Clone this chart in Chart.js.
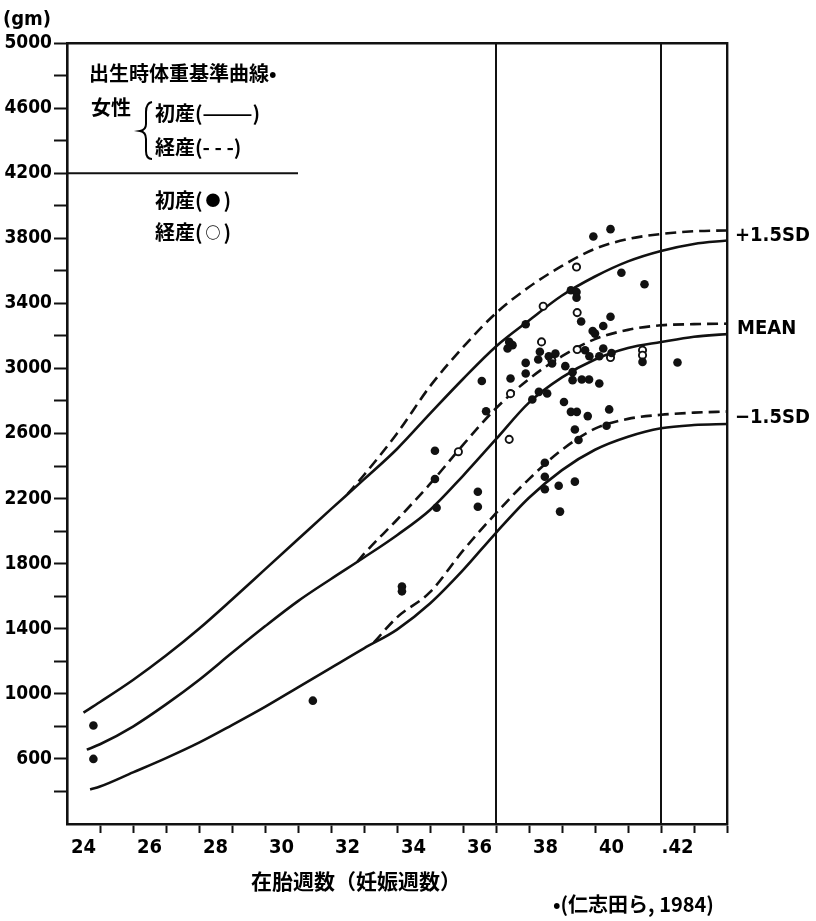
<!DOCTYPE html>
<html lang="ja">
<head>
<meta charset="UTF-8">
<title>出生時体重基準曲線 女性</title>
<script src="https://cdn.jsdelivr.net/npm/chart.js@4.4.1/dist/chart.umd.min.js"></script>
<style>
  html, body { margin: 0; padding: 0; background: #fff; }
  #wrap { width: 816px; height: 921px; }
</style>
</head>
<body>
<div id="wrap"><canvas id="bw" width="816" height="921"></canvas></div>
<script>
// axis ranges
const weekMin = 24, weekMax = 44;
const gramMin = 200, gramMax = 5000;
const weekLabels = [24, 26, 28, 30, 32, 34, 36, 38, 40, 42];
const weekLabelText = ['24', '26', '28', '30', '32', '34', '36', '38', '40', '.42'];
const refWeeks = [37, 42];
const legendBoxWeight = 4200;
const legendBoxEnd = 31;

// 初産 (solid) reference curves
const primUpperWeeks = [24.5, 25, 26, 27, 28, 29, 30, 31, 32, 33, 34, 35, 36, 37, 38, 39, 40, 41, 42, 43, 44];
const primUpper = [885, 950, 1085, 1235, 1400, 1580, 1765, 1950, 2135, 2318, 2505, 2722, 2935, 3135, 3295, 3448, 3565, 3658, 3722, 3765, 3786];
const primMeanWeeks = [24.6, 25, 26, 27, 28, 29, 30, 31, 32, 33, 34, 35, 36, 37, 38, 39, 40, 41, 42, 43, 44];
const primMean = [657, 690, 799, 935, 1085, 1252, 1415, 1570, 1706, 1838, 1975, 2130, 2340, 2565, 2790, 2945, 3055, 3125, 3162, 3195, 3211];
const primLowerWeeks = [24.7, 25, 26, 27, 28, 29, 30, 31, 32, 33, 34, 35, 36, 37, 38, 39, 40, 41, 42, 43, 44];
const primLower = [412, 430, 517, 605, 700, 808, 920, 1040, 1160, 1280, 1395, 1555, 1760, 1990, 2205, 2375, 2500, 2580, 2632, 2652, 2658];

// 経産 (dashed) reference curves, where they leave the solid ones
const multUpperWeeks = [32.5, 33, 34, 35, 36, 37, 38, 39, 40, 41, 42, 43, 44];
const multUpper = [2228, 2345, 2600, 2890, 3130, 3340, 3500, 3630, 3735, 3795, 3826, 3843, 3848];
const multMeanWeeks = [32.8, 33, 34, 35, 36, 37, 38, 39, 40, 41, 42, 43, 44];
const multMean = [1812, 1860, 2070, 2290, 2530, 2755, 2935, 3075, 3180, 3237, 3265, 3272, 3275];
const multLowerWeeks = [33.3, 34, 35, 36, 37, 38, 39, 40, 41, 42, 43, 44];
const multLower = [1316, 1470, 1625, 1880, 2110, 2320, 2500, 2630, 2690, 2715, 2728, 2735];

// cases: 初産 (filled)
const primiWeeks = [24.8, 24.8, 31.45, 34.15, 34.15, 35.15, 35.15, 35.2, 36.45, 36.45, 36.7, 36.57,
  39.95, 40.47, 40.8, 41.5, 39.27, 39.44, 39.44, 39.58, 40.47, 40.25, 37.9, 39.93, 40.0,
  37.4, 37.5, 37.35, 38.33, 37.9, 38.28, 38.6, 38.8, 38.7, 39.7, 39.83, 40.13, 40.25, 40.5, 41.44, 42.5,
  37.44, 37.9, 39.1, 39.32, 39.32, 39.6, 39.82, 40.13,
  38.1, 38.3, 38.55, 39.06, 39.27, 39.45, 39.78, 40.43, 39.39, 39.5, 40.35,
  38.48, 38.48, 38.48, 38.9, 39.39, 38.94];
const primiWeights = [805, 600, 958, 1660, 1630, 2494, 2320, 2144, 2242, 2150, 2737, 2923,
  3811, 3856, 3588, 3517, 3480, 3469, 3435, 3288, 3318, 3261, 3271, 3230, 3214,
  3163, 3143, 3122, 3102, 3034, 3055, 3075, 3091, 3030, 3112, 3075, 3075, 3122, 3095, 3040, 3036,
  2938, 2969, 3014, 2977, 2928, 2932, 2932, 2907,
  2809, 2856, 2846, 2794, 2733, 2733, 2707, 2748, 2625, 2560, 2648,
  2420, 2334, 2257, 2279, 2304, 2120];

// cases: 経産 (open)
const multiWeeks = [35.86, 37.4, 37.44, 38.43, 39.44, 39.46, 38.38, 38.69, 39.46, 40.47, 41.44, 41.44];
const multiWeights = [2488, 2564, 2845, 3382, 3623, 3343, 3163, 3050, 3116, 3067, 3112, 3081];

const pts = (xs, ys) => xs.map((w, i) => ({ x: w, y: ys[i] }));
const INK = '#111';
const numFont = '"DejaVu Sans Condensed", "Liberation Sans Narrow", "DejaVu Sans", sans-serif';
const jpFont = '"Noto Sans CJK JP", "Noto Sans CJK SC", sans-serif';

function curve(xs, ys, dashed) {
  return {
    type: 'line', data: pts(xs, ys),
    borderColor: INK, borderWidth: 2.6, borderDash: dashed ? [11, 6] : [],
    pointRadius: 0, fill: false, cubicInterpolationMode: 'monotone'
  };
}
function rule(a, b) {
  return { type: 'line', data: [a, b], borderColor: INK, borderWidth: 2, pointRadius: 0, fill: false, tension: 0 };
}

const datasets = [
  { type: 'scatter', label: '初産', data: pts(primiWeeks, primiWeights),
    pointRadius: 4.3, pointBackgroundColor: INK, pointBorderWidth: 0 },
  { type: 'scatter', label: '経産', data: pts(multiWeeks, multiWeights),
    pointRadius: 3.6, pointBackgroundColor: '#fff', pointBorderColor: INK, pointBorderWidth: 1.9 },
  curve(primUpperWeeks, primUpper, false),
  curve(primMeanWeeks, primMean, false),
  curve(primLowerWeeks, primLower, false),
  curve(multUpperWeeks, multUpper, true),
  curve(multMeanWeeks, multMean, true),
  curve(multLowerWeeks, multLower, true),
  ...refWeeks.map(w => rule({ x: w, y: gramMin }, { x: w, y: gramMax })),
  rule({ x: weekMin, y: legendBoxWeight }, { x: legendBoxEnd, y: legendBoxWeight })
];

const textPlugin = {
  id: 'texts',
  afterDraw(chart) {
    const { ctx, chartArea, scales: { y } } = chart;
    ctx.save();
    ctx.fillStyle = '#000';
    ctx.strokeStyle = '#000';
    ctx.textBaseline = 'middle';
    ctx.textAlign = 'left';

    ctx.font = 'bold 20px ' + numFont;
    ctx.fillText('(gm)', 3, 20);

    ctx.font = 'bold 20px ' + jpFont;
    ctx.fillText('出生時体重基準曲線•', 89, 73);
    ctx.fillText('女性', 91, 107);
    ctx.fillText('初産(———)', 155, 113);
    ctx.fillText('経産(- - -)', 155, 147);

    // point legend, marker glyph a little smaller than the text
    const item = (lab, mark, yy) => {
      ctx.font = 'bold 20px ' + jpFont;
      ctx.fillText(lab + '(', 155, yy);
      let x = 155 + ctx.measureText(lab + '(').width + 3;
      ctx.font = 'bold 15px ' + jpFont;
      ctx.fillText(mark, x, yy);
      x += ctx.measureText(mark).width + 3;
      ctx.font = 'bold 20px ' + jpFont;
      ctx.fillText(')', x, yy);
    };
    item('初産', '●', 200);
    item('経産', '○', 232);

    // brace
    ctx.lineWidth = 2;
    ctx.beginPath();
    ctx.moveTo(152, 102);
    ctx.quadraticCurveTo(146, 103, 146, 112);
    ctx.lineTo(146, 124);
    ctx.quadraticCurveTo(146, 130, 140, 131);
    ctx.quadraticCurveTo(146, 132, 146, 139);
    ctx.lineTo(146, 151);
    ctx.quadraticCurveTo(146, 159, 152, 159);
    ctx.stroke();

    // SD labels at the curve ends
    ctx.font = 'bold 20px ' + numFont;
    const lx = chartArea.right + 8;
    const last = a => a[a.length - 1];
    ctx.fillText('+1.5SD', lx, y.getPixelForValue((last(primUpper) + last(multUpper)) / 2));
    ctx.fillText('MEAN', lx + 2, y.getPixelForValue((last(primMean) + last(multMean)) / 2));
    ctx.fillText('−1.5SD', lx, y.getPixelForValue((last(primLower) + last(multLower)) / 2));

    ctx.font = 'bold 21px ' + jpFont;
    ctx.textAlign = 'center';
    ctx.fillText('在胎週数（妊娠週数）', 356, 881);
    ctx.textAlign = 'left';
    ctx.font = 'bold 20px ' + jpFont;
    ctx.fillText('•(仁志田ら, 1984)', 553, 904);
    ctx.restore();
  }
};

new Chart(document.getElementById('bw'), {
  type: 'line',
  data: { datasets },
  plugins: [textPlugin],
  options: {
    responsive: false,
    animation: false,
    devicePixelRatio: 1,
    layout: { padding: { top: 43, right: 89, bottom: 57, left: 0 } },
    plugins: { legend: { display: false }, tooltip: { enabled: false } },
    scales: {
      x: {
        type: 'linear', position: 'bottom', min: weekMin, max: weekMax,
        afterBuildTicks: s => {
          const t = [];
          for (let w = weekMin; w <= weekMax; w += 0.5) t.push({ value: w });
          s.ticks = t;
        },
        afterFit: s => { s.height = 40; },
        border: { display: true, color: INK, width: 2.6 },
        grid: {
          drawOnChartArea: false, tickLength: 9, tickWidth: 2,
          tickColor: c => Number.isInteger(c.tick.value) && c.tick.value > weekMin ? INK : 'rgba(0,0,0,0)'
        },
        ticks: {
          autoSkip: false, maxRotation: 0, padding: 3, color: '#000',
          font: { family: numFont, weight: 'bold', size: 20 },
          callback: v => {
            const i = weekLabels.indexOf(v - 0.5);
            return i >= 0 ? weekLabelText[i] : '';
          }
        }
      },
      xTop: {
        type: 'linear', position: 'top', min: weekMin, max: weekMax,
        afterFit: s => { s.height = 0; },
        border: { display: true, color: INK, width: 2.6 },
        grid: { display: false, drawTicks: false },
        ticks: { display: false }
      },
      y: {
        type: 'linear', position: 'left', min: gramMin, max: gramMax,
        afterBuildTicks: s => {
          const t = [];
          for (let g = gramMin + 200; g <= gramMax; g += 200) t.push({ value: g });
          s.ticks = t;
        },
        afterFit: s => { s.width = 67; },
        border: { display: true, color: INK, width: 2.6 },
        grid: { drawOnChartArea: false, tickLength: 13, tickWidth: 2, tickColor: INK },
        ticks: {
          autoSkip: false, padding: 2, color: '#000',
          font: { family: numFont, weight: 'bold', size: 19 },
          callback: v => (v >= 600 && (v - 600) % 400 === 0) ? String(v) : ''
        }
      },
      yRight: {
        type: 'linear', position: 'right', min: gramMin, max: gramMax,
        afterFit: s => { s.width = 0; },
        border: { display: true, color: INK, width: 2.4 },
        grid: { display: false, drawTicks: false },
        ticks: { display: false }
      }
    }
  }
});
</script>
</body>
</html>
